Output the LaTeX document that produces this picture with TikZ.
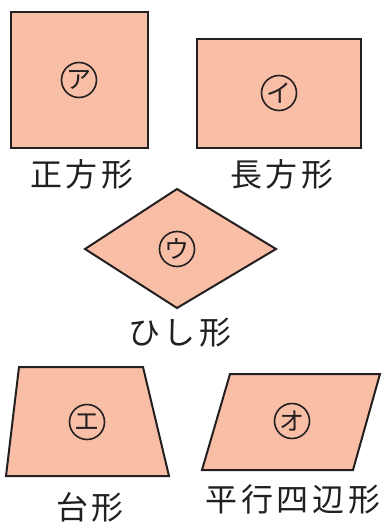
\documentclass[tikz,border=0pt]{standalone}
\usepackage{fontspec}
\newfontfamily\jp{Noto Sans CJK JP}
\definecolor{shapefill}{RGB}{249,191,166}
\definecolor{ink}{RGB}{35,31,32}
\tikzset{
  shp/.style={draw=ink, fill=shapefill, line width=2pt, line join=miter},
  tag/.style={draw=ink, circle, line width=1.6pt, minimum size=35pt, inner sep=0pt, font=\jp\fontsize{25pt}{25pt}\selectfont, text=ink},
  lbl/.style={font=\jp\fontsize{32pt}{32pt}\selectfont\addfontfeature{LetterSpace=12}, text=ink, inner sep=0pt}
}
\begin{document}
\begin{tikzpicture}[x=1pt,y=-1pt]
\useasboundingbox (0,0) rectangle (385,522);
% square
\draw[shp] (11,12) rectangle (148,148);
\node[tag] (a) at (79,80) {ア};
\node[lbl] (la) at (82,174) {正方形};
% rectangle
\draw[shp] (197,39) rectangle (361,148);
\node[tag] (b) at (279,93) {イ};
\node[lbl] (lb) at (282,174) {長方形};
% rhombus
\draw[shp] (177,189) -- (276,249) -- (177,308) -- (85,249) -- cycle;
\node[tag] (c) at (177,249) {ウ};
\node[lbl] (lc) at (180,333) {ひし形};
% trapezoid
\draw[shp] (19,367) -- (143,367) -- (169,476) -- (6,476) -- cycle;
\node[tag] (d) at (87,422) {エ};
\node[lbl] (ld) at (90,507) {台形};
% parallelogram
\draw[shp] (230,374) -- (380,374) -- (353,470) -- (202,470) -- cycle;
\node[tag] (e) at (292,421) {オ};
\node[lbl] (le) at (293,499) {平行四辺形};
\end{tikzpicture}
\end{document}
